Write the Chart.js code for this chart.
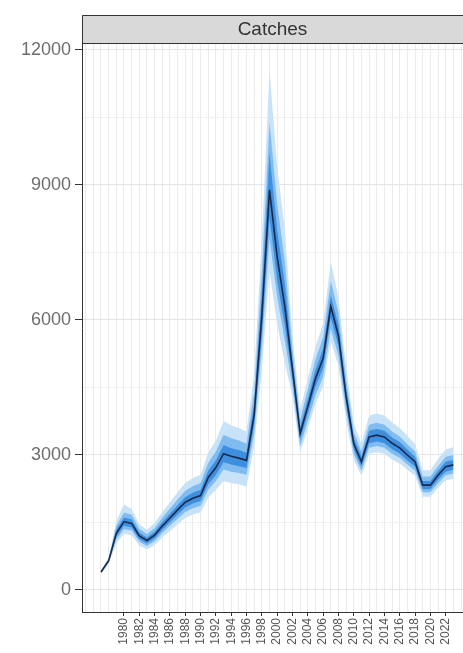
<!DOCTYPE html>
<html>
<head>
<meta charset="utf-8">
<script src="https://cdn.jsdelivr.net/npm/chart.js@4.4.0/dist/chart.umd.min.js"></script>
<style>
  body { margin: 0; background: #fff; }
  canvas { display: block; }
</style>
</head>
<body>
<canvas id="myChart" width="463" height="653"></canvas>
<script>
// years 1977..2023
const years = [1977,1978,1979,1980,1981,1982,1983,1984,1985,1986,1987,1988,1989,1990,1991,1992,1993,1994,1995,1996,1997,1998,1999,2000,2001,2002,2003,2004,2005,2006,2007,2008,2009,2010,2011,2012,2013,2014,2015,2016,2017,2018,2019,2020,2021,2022,2023];

// median catches
const catches = [400,650,1260,1520,1480,1200,1100,1220,1420,1600,1780,1950,2040,2100,2500,2720,3030,2970,2930,2880,3900,6100,8890,7400,6300,4900,3480,4080,4700,5150,6300,5650,4300,3250,2850,3400,3440,3400,3260,3160,3000,2850,2330,2330,2550,2740,2780];

// outer band
const outerHi = [440,715,1537,1900,1800,1460,1340,1490,1730,1950,2170,2380,2490,2560,3050,3320,3750,3660,3600,3520,4800,7800,11550,9400,8000,5640,4000,4690,5400,5920,7300,6500,4950,3700,3250,3880,3920,3880,3720,3600,3420,3250,2660,2660,2910,3120,3170];
const outerLo = [360,585,1033,1250,1215,985,900,1000,1165,1310,1460,1600,1675,1720,2050,2230,2420,2380,2350,2300,3200,4900,7100,5900,5040,4310,3060,3590,4140,4530,5540,4970,3780,2890,2540,3030,3060,3030,2900,2810,2670,2540,2070,2070,2270,2440,2470];

// middle band
const midHi = [424,690,1424,1720,1670,1355,1245,1380,1605,1810,2010,2205,2305,2375,2825,3075,3450,3370,3320,3250,4400,7080,10400,8580,7300,5340,3790,4450,5120,5610,6870,6160,4690,3510,3080,3670,3715,3670,3520,3410,3240,3080,2520,2520,2750,2960,3000];
const midLo = [376,611,1121,1350,1320,1070,980,1085,1265,1425,1585,1735,1815,1870,2225,2420,2680,2630,2600,2560,3470,5370,7800,6510,5540,4510,3200,3750,4320,4740,5800,5200,3960,3020,2650,3160,3200,3160,3030,2940,2790,2650,2170,2170,2370,2550,2590];

// inner band
const innerHi = [412,670,1336,1610,1570,1270,1165,1295,1505,1695,1885,2065,2160,2225,2650,2885,3220,3150,3110,3050,4130,6590,9700,7990,6800,5100,3620,4240,4890,5360,6550,5880,4470,3380,2960,3540,3580,3540,3390,3290,3120,2960,2420,2420,2650,2850,2890];
const innerLo = [388,630,1184,1430,1390,1130,1035,1145,1335,1505,1675,1835,1920,1975,2350,2555,2840,2790,2750,2710,3670,5670,8270,6880,5860,4700,3340,3920,4510,4940,6050,5420,4130,3120,2740,3260,3300,3260,3130,3030,2880,2740,2240,2240,2450,2630,2670];

const yTicks = [0,1500,3000,4500,6000,7500,9000,10500,12000];
const panelTitle = "Catches";

function pts(arr) {
  return arr.map((v, i) => ({ x: years[i], y: v }));
}

function band(arr, color, ord, fill) {
  return {
    data: pts(arr),
    borderWidth: 0,
    pointRadius: 0,
    backgroundColor: color,
    fill: fill,
    order: ord,
    tension: 0
  };
}

function labelled(v) {
  return v % 2 === 0 && v >= 1980 && v <= 2022;
}

const stripPlugin = {
  id: 'strip',
  afterDraw(chart) {
    const ctx = chart.ctx;
    const left = chart.chartArea.left;
    const right = chart.width;
    ctx.save();
    ctx.fillStyle = '#d9d9d9';
    ctx.fillRect(left, 15, right - left, 29);
    ctx.strokeStyle = '#333';
    ctx.lineWidth = 1;
    ctx.beginPath();
    ctx.moveTo(right, 15.5);
    ctx.lineTo(left + 0.5, 15.5);
    ctx.lineTo(left + 0.5, 44);
    ctx.moveTo(left, 43.5);
    ctx.lineTo(right, 43.5);
    ctx.stroke();
    ctx.fillStyle = '#333';
    ctx.font = '19px "Liberation Sans", Arial, sans-serif';
    ctx.textAlign = 'center';
    ctx.textBaseline = 'middle';
    ctx.fillText(panelTitle, (left + right) / 2, 30);
    ctx.restore();
  }
};

const bg = {
  id: 'bg',
  beforeDraw(chart) {
    const ctx = chart.ctx;
    ctx.save();
    ctx.fillStyle = '#fff';
    ctx.fillRect(0, 0, chart.width, chart.height);
    ctx.restore();
  }
};

var myChart = new Chart(document.getElementById('myChart'), {
  type: 'line',
  data: {
    datasets: [
      {
        data: pts(catches),
        borderColor: '#1b2a4a',
        borderWidth: 1.6,
        pointRadius: 0,
        fill: false,
        order: 0,
        tension: 0
      },
      band(innerHi, '#3f8fe0', 1, '+1'),
      band(innerLo, '#3f8fe0', 1, false),
      band(midHi, '#80bcf0', 2, '+1'),
      band(midLo, '#80bcf0', 2, false),
      band(outerHi, '#c8e2f8', 3, '+1'),
      band(outerLo, '#c8e2f8', 3, false)
    ]
  },
  options: {
    responsive: false,
    animation: false,
    layout: { padding: { top: 44, right: 0, bottom: 0, left: 0 } },
    plugins: {
      legend: { display: false },
      tooltip: { enabled: false },
      filler: { propagate: false }
    },
    scales: {
      x: {
        type: 'linear',
        min: 1974.52,
        max: 2024.26,
        afterBuildTicks(scale) {
          const t = [];
          for (let y = 1975; y <= 2024; y++) t.push({ value: y });
          scale.ticks = t;
        },
        afterFit(scale) {
          scale.height = 41;
          scale.paddingLeft = 0;
          scale.paddingRight = 0;
        },
        ticks: {
          autoSkip: false,
          maxRotation: 90,
          minRotation: 90,
          padding: 2,
          color: '#555',
          font: { size: 12, family: '"Liberation Sans", Arial, sans-serif' },
          callback: (v) => labelled(v) ? String(v) : ''
        },
        grid: {
          color: '#ebebeb',
          lineWidth: 1,
          tickLength: 4,
          tickColor: (c) => (c.tick && labelled(c.tick.value)) ? '#333' : 'rgba(0,0,0,0)'
        },
        border: { display: true, color: '#333', width: 1 }
      },
      y: {
        type: 'linear',
        min: -489,
        max: 12133,
        afterBuildTicks(scale) {
          scale.ticks = yTicks.map(v => ({ value: v }));
        },
        afterFit(scale) {
          scale.width = 82;
          scale.paddingTop = 0;
          scale.paddingBottom = 0;
        },
        ticks: {
          padding: 4,
          color: '#6e6e6e',
          font: { size: 18, family: '"Liberation Sans", Arial, sans-serif' },
          callback: (v) => (v % 3000 === 0) ? String(v) : ''
        },
        grid: {
          color: (c) => (c.tick && c.tick.value % 3000 === 0) ? '#e4e4e4' : '#f0f0f0',
          tickLength: 7,
          tickColor: (c) => (c.tick && c.tick.value % 3000 === 0) ? '#333' : 'rgba(0,0,0,0)'
        },
        border: { display: true, color: '#333', width: 1 }
      }
    }
  },
  plugins: [bg, stripPlugin]
});
</script>
</body>
</html>
